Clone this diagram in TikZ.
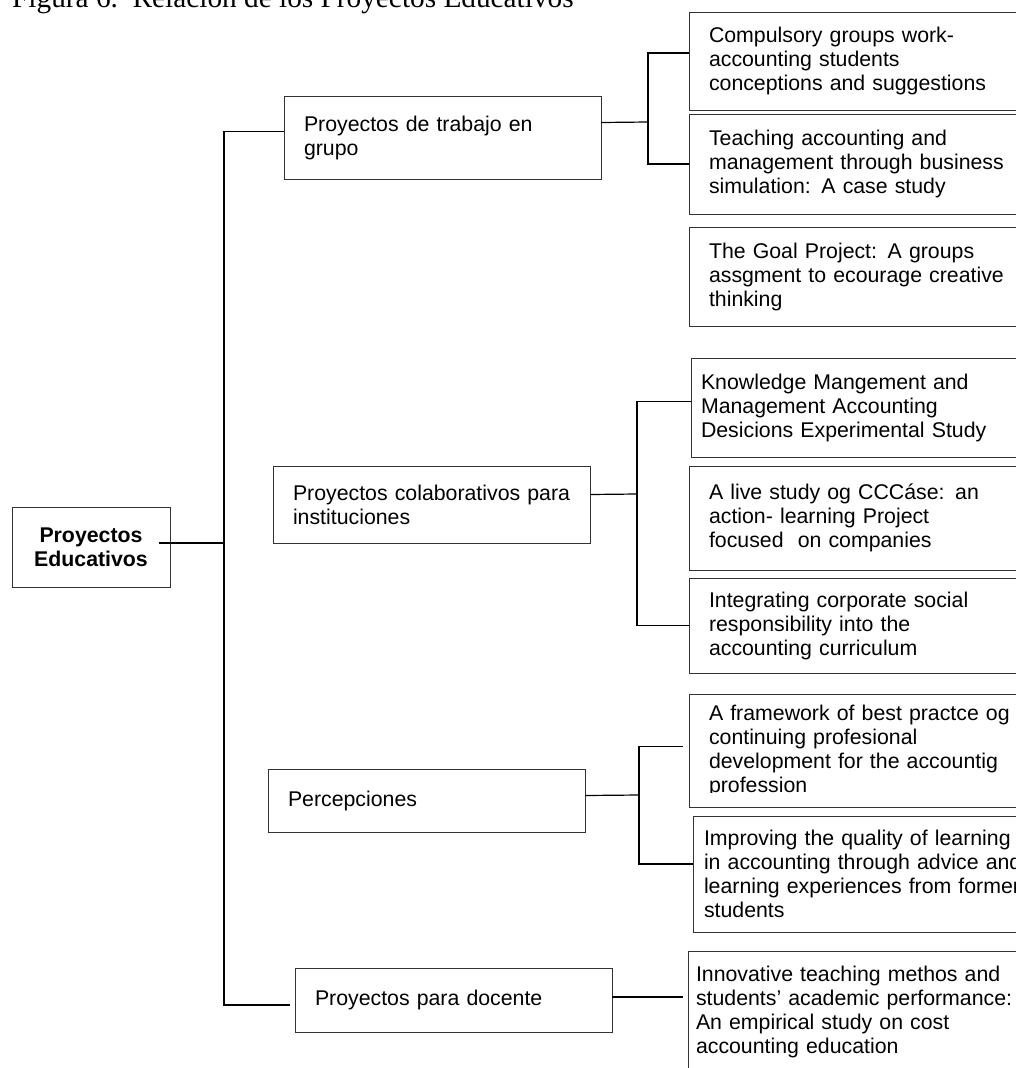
\documentclass[tikz,border=0pt]{standalone}
\usepackage{fontspec}
\setmainfont{Liberation Sans}
\newfontfamily\titlefont{Liberation Serif}
\usetikzlibrary{positioning}
\newcommand{\boxfont}{\fontsize{21.3}{24}\selectfont}

\begin{document}
\begin{tikzpicture}[
  x=1pt,y=-1pt,
  rootbox/.style={draw=black!80,line width=1pt,font=\boxfont\bfseries,align=center,
    minimum width=158pt,minimum height=80pt,inner sep=0pt,outer sep=0pt},
  topic/.style={draw=black!80,line width=1pt,font=\boxfont,align=left,
    text width=277pt,inner xsep=20pt,outer sep=0pt,anchor=north west},
  paper/.style={draw=black!80,line width=1pt,font=\boxfont,align=left,
    text width=330pt,inner xsep=20pt,outer sep=0pt,anchor=north west},
  link/.style={black,line width=1.2pt}
]
  \useasboundingbox (0,0) rectangle (1015,1068);
  \node[anchor=base west,inner sep=0pt,font=\titlefont\fontsize{29.3}{32}\selectfont] (title) at (12,7.5)
    {Figura 6.\ \ Relación de los Proyectos Educativos};

  \node[rootbox] (root) at (91,547) {Proyectos\\Educativos};

  \node[topic,minimum height=83pt] (p1) at (284,96) {Proyectos de trabajo en\\grupo};
  \node[topic,minimum height=77pt] (p2) at (273,466) {\mbox{Proyectos colaborativos para}\\instituciones};
  \node[topic,minimum height=63pt] (p3) at (268,769) {Percepciones};
  \node[topic,minimum height=64pt] (p4) at (295,968) {Proyectos para docente};

  \node[paper,minimum height=98pt] (c1) at (689,12)
    {Compulsory groups work-\\accounting students\\conceptions and suggestions};
  \node[paper,minimum height=100pt,below=4pt of c1.south west,anchor=north west] (c2)
    {Teaching accounting and\\management through business\\simulation: A case study};
  \node[paper,minimum height=99pt,below=13pt of c2.south west,anchor=north west] (c3)
    {The Goal Project: A groups\\assgment to ecourage creative\\thinking};

  \node[paper,minimum height=99pt,inner xsep=10pt] (k1) at (691,358)
    {Knowledge Mangement and\\Management Accounting\\Desicions Experimental Study};
  \node[paper,minimum height=104pt,below=9pt of k1.south west,anchor=north west,xshift=-2pt] (k2)
    {A live study og CCCáse: an\\action- learning Project\\focused\ \ on companies};
  \node[paper,minimum height=95pt,below=8pt of k2.south west,anchor=north west] (k3)
    {Integrating corporate social\\responsibility into the\\accounting curriculum};

  \node[paper,minimum height=113pt,below=21pt of k3.south west,anchor=north west] (f1)
    {A framework of best practce og\\continuing profesional\\development for the accountig\\profession};
  \fill[white] ([shift={(2pt,1pt)}]f1.south west) rectangle ([shift={(-2pt,14.5pt)}]f1.south east);
  \node[paper,minimum height=116pt,inner xsep=11pt,below=9pt of f1.south west,anchor=north west,xshift=4pt] (f2)
    {Improving the quality of learning\\in accounting through advice and\\learning experiences from former\\students};
  \node[paper,minimum height=121pt,inner xsep=8pt,below=19pt of f2.south west,anchor=north west,xshift=-5pt] (g)
    {Innovative teaching methos and\\students’ academic performance:\\An empirical study on cost\\accounting education};

  \coordinate (trunk) at (224,543);
  \draw[link] ([xshift=-11pt,yshift=4pt]root.east) -- (trunk);
  \draw[link] ([yshift=6pt]p1.west) -| (trunk) |- ([xshift=-5pt,yshift=-5pt]p4.west);

  \coordinate (j1) at (648,122);
  \draw[link] ([yshift=15pt]p1.east) -- (j1);
  \draw[link] ([yshift=8pt]c1.west) -| (j1) |- (c2.west);

  \coordinate (j2) at (637,494);
  \draw[link] ([yshift=10pt]p2.east) -- (j2);
  \draw[link] ([yshift=6pt]k1.west) -| (j2) |- (k3.west);

  \coordinate (j3) at (639,795);
  \draw[link] ([yshift=5pt]p3.east) -- (j3);
  \draw[link] ([xshift=-6pt,yshift=4pt]f1.west) -| (j3) |- ([yshift=10pt]f2.west);

  \draw[link] ([yshift=3pt]p4.east) -- ([xshift=-5pt,yshift=14.5pt]g.west);
\end{tikzpicture}
\end{document}
